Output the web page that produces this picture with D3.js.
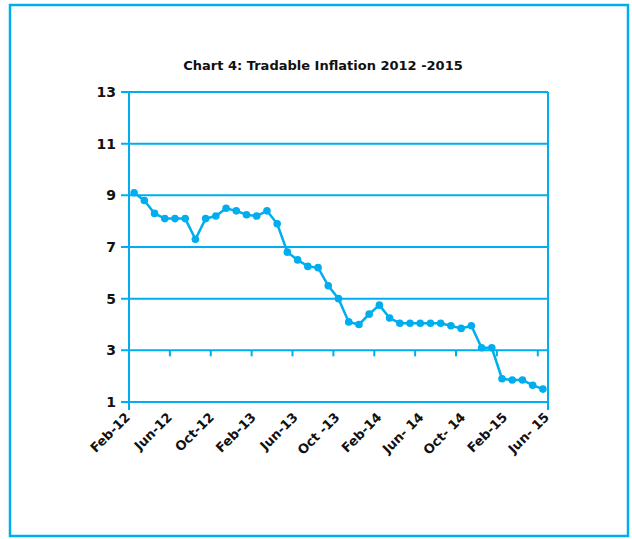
<!DOCTYPE html>
<html>
<head>
<meta charset="utf-8">
<script src="https://cdn.jsdelivr.net/npm/d3@7"></script>
<style>
  body { margin: 0; background: #fff; }
  text { font-family: "DejaVu Sans", sans-serif; font-weight: bold; fill: #111; }
</style>
</head>
<body>
<div id="chart"></div>
<script>
// data
const months = ["Feb-12","Mar-12","Apr-12","May-12","Jun-12","Jul-12","Aug-12","Sep-12","Oct-12","Nov-12","Dec-12","Jan-13",
  "Feb-13","Mar-13","Apr-13","May-13","Jun-13","Jul-13","Aug-13","Sep-13","Oct-13","Nov-13","Dec-13","Jan-14",
  "Feb-14","Mar-14","Apr-14","May-14","Jun-14","Jul-14","Aug-14","Sep-14","Oct-14","Nov-14","Dec-14","Jan-15",
  "Feb-15","Mar-15","Apr-15","May-15","Jun-15"]
const inflation = [9.1, 8.8, 8.3, 8.1, 8.1, 8.1, 7.3, 8.1, 8.2, 8.5, 8.4, 8.25,
  8.2, 8.4, 7.9, 6.8, 6.5, 6.25, 6.2, 5.5, 5.0, 4.1, 4.0, 4.4,
  4.75, 4.25, 4.05, 4.05, 4.05, 4.05, 4.05, 3.95, 3.85, 3.95, 3.1, 3.1,
  1.9, 1.85, 1.85, 1.65, 1.5]
const tickLabels = ["Feb-12","Jun-12","Oct-12","Feb-13","Jun-13","Oct -13","Feb-14","Jun- 14","Oct- 14","Feb-15","Jun- 15"]
const yTicks = [1, 3, 5, 7, 9, 11, 13]

const svgWidth = 632
const svgHeight = 539
const blue = "#00AEEF"

let margin = { top: 92, left: 129 }
let width = 548 - 129
let height = 402 - 92

let svg = d3.select("#chart")
  .append("svg")
  .attr("width", svgWidth)
  .attr("height", svgHeight)

// outer frame
svg.append("rect")
  .attr("x", 10).attr("y", 5)
  .attr("width", 618).attr("height", 531)
  .attr("fill", "none")
  .attr("stroke", blue)
  .attr("stroke-width", 2.5)

svg.append("text")
  .attr("x", 323).attr("y", 70)
  .attr("text-anchor", "middle")
  .attr("font-size", "13px")
  .text("Chart 4: Tradable Inflation 2012 -2015")

let chartGroup = svg.append("g")
  .attr("transform", `translate(${margin.left}, ${margin.top})`)

let xScale = d3.scaleBand().domain(months).range([0, width])
let xLabels = d3.scalePoint().domain(tickLabels).range([0, width])
let yScale = d3.scaleLinear().domain([1, 13]).range([height, 0])

// gridlines with the little ticks on the left
chartGroup.selectAll(".grid")
  .data(yTicks)
  .enter()
  .append("line")
  .attr("x1", -8).attr("x2", width)
  .attr("y1", d => yScale(d)).attr("y2", d => yScale(d))
  .attr("stroke", blue)
  .attr("stroke-width", 2)

// y labels
chartGroup.selectAll(".ylab")
  .data(yTicks)
  .enter()
  .append("text")
  .attr("x", -13)
  .attr("y", d => yScale(d) + 5)
  .attr("text-anchor", "end")
  .attr("font-size", "14px")
  .text(d => d)

// left and right verticals
chartGroup.selectAll(".vert")
  .data([0, width])
  .enter()
  .append("line")
  .attr("x1", d => d).attr("x2", d => d)
  .attr("y1", 0).attr("y2", height + 8)
  .attr("stroke", blue)
  .attr("stroke-width", 2)

// category ticks hanging off the 3 line
let tickMonths = months.filter((m, i) => i > 0 && i % 4 === 0)
chartGroup.selectAll(".xtick")
  .data(tickMonths)
  .enter()
  .append("line")
  .attr("x1", d => xScale(d)).attr("x2", d => xScale(d))
  .attr("y1", yScale(3)).attr("y2", yScale(3) + 6)
  .attr("stroke", blue)
  .attr("stroke-width", 2)

// x labels, rotated
chartGroup.selectAll(".xlab")
  .data(tickLabels)
  .enter()
  .append("text")
  .attr("text-anchor", "end")
  .attr("font-size", "13px")
  .attr("transform", d => `translate(${xLabels(d) + 2}, ${height + 16}) rotate(-45)`)
  .text(d => d)

let cx = d => xScale(d.m) + xScale.bandwidth() / 2
let points = months.map((m, i) => ({ m: m, v: inflation[i] }))

let line = d3.line()
  .x(cx)
  .y(d => yScale(d.v))

chartGroup.append("path")
  .datum(points)
  .attr("d", line)
  .attr("fill", "none")
  .attr("stroke", blue)
  .attr("stroke-width", 2.5)

chartGroup.selectAll(".dot")
  .data(points)
  .enter()
  .append("circle")
  .attr("cx", cx)
  .attr("cy", d => yScale(d.v))
  .attr("r", 3.8)
  .attr("fill", blue)
</script>
</body>
</html>
